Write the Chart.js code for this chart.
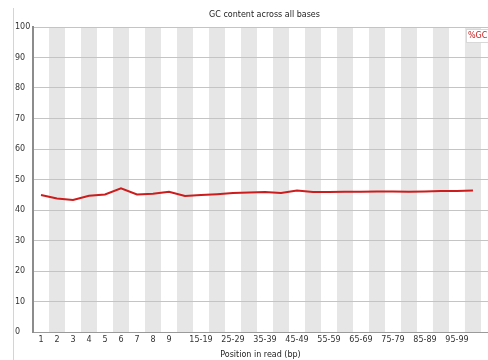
<!DOCTYPE html>
<html>
<head>
<meta charset="utf-8">
<title>GC content across all bases</title>
<script src="https://cdn.jsdelivr.net/npm/chart.js@4/dist/chart.umd.min.js"></script>
<style>
  html, body { margin: 0; padding: 0; background: #ffffff; }
  #wrap { width: 488px; height: 360px; position: relative; }
</style>
</head>
<body>
<div id="wrap"><canvas id="gc"></canvas></div>
<script>
// Base positions (single bases, then 5 bp bins)
const categories = ['1','2','3','4','5','6','7','8','9',
  '10-14','15-19','20-24','25-29','30-34','35-39','40-44','45-49','50-54',
  '55-59','60-64','65-69','70-74','75-79','80-84','85-89','90-94','95-99','100-101'];

// Mean %GC per position
const gcPercent = [44.9, 43.8, 43.3, 44.7, 45.1, 47.1, 45.1, 45.3, 46.0,
  44.6, 44.9, 45.2, 45.6, 45.7, 45.9, 45.6, 46.4, 45.9,
  45.9, 46.0, 46.0, 46.1, 46.1, 46.0, 46.1, 46.2, 46.2, 46.4];

// Labels that fit under the axis (overlapping ones are left blank)
const xTickLabels = ['1','2','3','4','5','6','7','8','9',
  '','15-19','','25-29','','35-39','','45-49','',
  '55-59','','65-69','','75-79','','85-89','','95-99',''];

const yTicks = [0, 10, 20, 30, 40, 50, 60, 70, 80, 90, 100];

const seriesName = '%GC';
const chartTitle = 'GC content across all bases';
const xTitle = 'Position in read (bp)';

const FONT = 'DejaVu Sans';
const RED = '#cc1c1c';

// Alternating grey stripes behind every second position
const stripes = {
  id: 'stripes',
  beforeDraw(chart) {
    const { ctx, chartArea, scales } = chart;
    const x = scales.x;
    ctx.save();
    ctx.fillStyle = 'rgb(230,230,230)';
    categories.forEach((_, i) => {
      if (i % 2 === 1) {
        const l = x.getPixelForValue(i - 0.5);
        const r = x.getPixelForValue(i + 0.5);
        ctx.fillRect(l, chartArea.top, r - l, chartArea.bottom - chartArea.top);
      }
    });
    ctx.restore();
  }
};

// Title, frame line and the small legend box
const decorations = {
  id: 'decorations',
  afterDraw(chart) {
    const { ctx, chartArea } = chart;
    ctx.save();
    // faint frame on the left
    ctx.strokeStyle = '#d4d4d4';
    ctx.lineWidth = 1;
    ctx.beginPath();
    ctx.moveTo(13.5, 8);
    ctx.lineTo(13.5, 360);
    ctx.stroke();

    // chart title
    ctx.fillStyle = '#222';
    ctx.font = '8px "' + FONT + '"';
    ctx.textAlign = 'center';
    ctx.textBaseline = 'middle';
    ctx.fillText(chartTitle, (chartArea.left + chartArea.right) / 2 + 4, 15);

    // legend
    const bx = chartArea.right - 22, by = chartArea.top + 2;
    ctx.fillStyle = '#ffffff';
    ctx.fillRect(bx, by, 30, 13);
    ctx.strokeStyle = '#d8d8d8';
    ctx.strokeRect(bx + 0.5, by + 0.5, 30, 13);
    ctx.fillStyle = RED;
    ctx.textAlign = 'left';
    ctx.fillText(seriesName, bx + 2, by + 7);
    ctx.restore();
  }
};

new Chart(document.getElementById('gc'), {
  type: 'line',
  data: {
    datasets: [{
      label: seriesName,
      data: gcPercent.map((v, i) => ({ x: i, y: v })),
      borderColor: RED,
      borderWidth: 2,
      pointRadius: 0,
      tension: 0,
      fill: false
    }]
  },
  options: {
    responsive: true,
    maintainAspectRatio: false,
    animation: false,
    layout: { padding: { left: 15, top: 27, right: 0, bottom: 0 } },
    plugins: {
      legend: { display: false },
      title: { display: false },
      tooltip: { enabled: false }
    },
    scales: {
      x: {
        type: 'linear',
        min: -0.5,
        max: 27.94,
        afterBuildTicks(scale) { scale.ticks = categories.map((_, i) => ({ value: i })); },
        afterFit(scale) { scale.height = 28; },
        grid: { display: false, drawTicks: false },
        border: { display: true, color: '#9a9a9a', width: 1 },
        ticks: {
          autoSkip: false,
          maxRotation: 0,
          padding: 3,
          color: '#333',
          font: { family: FONT, size: 8 },
          callback: (v) => xTickLabels[v] || ''
        },
        title: {
          display: true,
          text: xTitle,
          color: '#222',
          font: { family: FONT, size: 8 },
          padding: { top: 0, bottom: 0 }
        }
      },
      y: {
        min: 0,
        max: 100,
        afterBuildTicks(scale) { scale.ticks = yTicks.map(v => ({ value: v })); },
        afterFit(scale) { scale.width = 18; },
        grid: { color: 'rgb(196,196,196)', lineWidth: 1, drawTicks: false },
        border: { display: true, color: '#8c8c8c', width: 2 },
        ticks: {
          crossAlign: 'far',
          padding: 0,
          color: '#333',
          font: { family: FONT, size: 8 }
        }
      }
    }
  },
  plugins: [stripes, decorations]
});
</script>
</body>
</html>
